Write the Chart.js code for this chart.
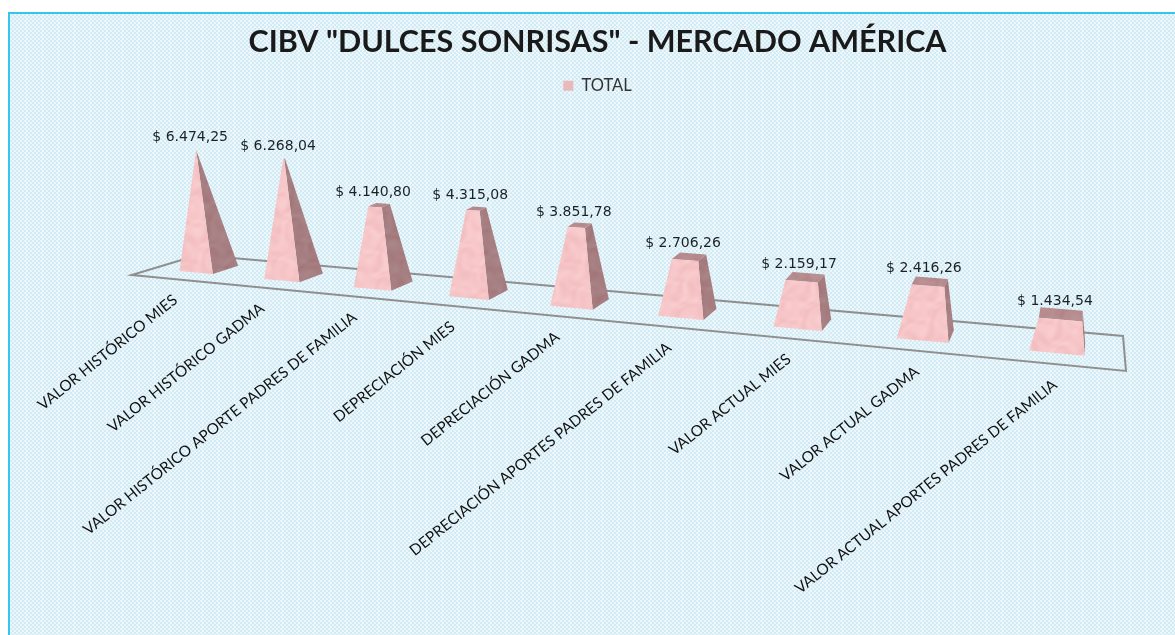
<!DOCTYPE html>
<html>
<head>
<meta charset="utf-8">
<style>
  html, body { margin: 0; height: 100%; background: #fff; overflow: hidden; }
  #fondo {
    position: absolute; left: 8px; top: 12px; width: 1180px; height: 640px;
    border: 2px solid #35c6f0; box-sizing: border-box;
    background:
      repeating-linear-gradient(90deg, rgba(255,255,255,.3) 0 1px, transparent 1px 16px),
      repeating-conic-gradient(#d2eaf3 0 25%, #ebf7fa 0 50%) 0 0 / 4px 4px;
  }
  #grafico { position: absolute; left: 0; top: 0; }
</style>
</head>
<body>
<div id="fondo"></div>
<canvas id="grafico" width="1175" height="635"></canvas>
<script src="https://cdn.jsdelivr.net/npm/chart.js@4"></script>
<script>
const categorias = [
  'VALOR HISTÓRICO MIES',
  'VALOR HISTÓRICO GADMA',
  'VALOR HISTÓRICO APORTE PADRES DE FAMILIA',
  'DEPRECIACIÓN MIES',
  'DEPRECIACIÓN GADMA',
  'DEPRECIACIÓN APORTES PADRES DE FAMILIA',
  'VALOR ACTUAL MIES',
  'VALOR ACTUAL GADMA',
  'VALOR ACTUAL APORTES PADRES DE FAMILIA'
];
const valores = [6474.25, 6268.04, 4140.80, 4315.08, 3851.78, 2706.26, 2159.17, 2416.26, 1434.54];

// esquinas del piso en pantalla: frente-izq, frente-der, fondo-der, fondo-izq
const piso = [[131.7, 275], [1126, 371], [1123, 336], [198, 255]];
const fondoV = [0.3, 0.7];   // profundidad de cada barra dentro del piso

// homografia del cuadrado unidad al piso
function crearProyeccion(q) {
  const [p0, p1, p2, p3] = q;
  const dx1 = p1[0] - p2[0], dx2 = p3[0] - p2[0], sx = p0[0] - p1[0] + p2[0] - p3[0];
  const dy1 = p1[1] - p2[1], dy2 = p3[1] - p2[1], sy = p0[1] - p1[1] + p2[1] - p3[1];
  const det = dx1 * dy2 - dx2 * dy1;
  const g = (sx * dy2 - dx2 * sy) / det, h = (dx1 * sy - sx * dy1) / det;
  const a = p1[0] - p0[0] + g * p1[0], b = p3[0] - p0[0] + h * p3[0];
  const d = p1[1] - p0[1] + g * p1[1], e = p3[1] - p0[1] + h * p3[1];
  return (u, v) => {
    const w = g * u + h * v + 1;
    return [(a * u + b * v + p0[0]) / w, (d * u + e * v + p0[1]) / w];
  };
}
const proyectar = crearProyeccion(piso);

// punto 3D: u,v sobre el piso y f = fraccion de la altura del eje
function punto3d(u, v, f) {
  const [x, y] = proyectar(u, v);
  return [x + 2.5 + (x - 587) * 0.0342 * f, y - (112 + 0.031 * x) * f];
}

// textura jaspeada de las caras
function textura(ctx, r, g, b) {
  const c = document.createElement('canvas');
  c.width = c.height = 128;
  const cx = c.getContext('2d');
  const img = cx.createImageData(128, 128);
  const k = 2 * Math.PI / 128;
  for (let j = 0; j < 128; j++) {
    for (let i = 0; i < 128; i++) {
      const w1 = 1.8 * Math.sin(k * (2 * i - 3 * j)) + 1.2 * Math.sin(k * (5 * i + j) + 0.7);
      const w2 = 1.5 * Math.cos(k * (3 * i + 4 * j) + 1.1) + Math.sin(k * (i - 6 * j) + 2.3);
      const n = Math.sin(k * (4 * i + 3 * j) + w1) + Math.sin(k * (7 * j - 5 * i) + w2) * 0.8 +
                Math.sin(k * (9 * i + 8 * j) + w1 + w2) * 0.5;
      const p = (j * 128 + i) * 4;
      img.data[p] = r + n * 1.5;
      img.data[p + 1] = g + n * 3.5;
      img.data[p + 2] = b + n * 3.5;
      img.data[p + 3] = 255;
    }
  }
  cx.putImageData(img, 0, 0);
  return ctx.createPattern(c, 'repeat');
}

function cara(ctx, puntos, relleno) {
  ctx.beginPath();
  puntos.forEach((p, i) => i ? ctx.lineTo(p[0], p[1]) : ctx.moveTo(p[0], p[1]));
  ctx.closePath();
  ctx.fillStyle = relleno;
  ctx.fill();
}

const piramides = {
  id: 'piramides',
  // las etiquetas del eje siguen el borde frontal del piso
  beforeDraw(chart) {
    const area = chart.chartArea;
    const eje = chart.scales.x;
    eje.getLabelItems().forEach((item, i) => {
      const [x, y] = proyectar((eje.getPixelForTick(i) - area.left) / area.width, 0);
      item.options.translation = [x + 2, y + 19];
      item.options.rotation = -38.8 * Math.PI / 180;
      item.options.textAlign = 'right';
      item.options.textBaseline = 'middle';
      item.textOffset = 0;
    });
  },
  beforeDatasetDraw(chart) {
    const ctx = chart.ctx;
    const area = chart.chartArea;
    const [v0, v1] = fondoV;

    ctx.save();
    ctx.beginPath();
    piso.forEach((p, i) => i ? ctx.lineTo(p[0], p[1]) : ctx.moveTo(p[0], p[1]));
    ctx.closePath();
    ctx.strokeStyle = '#8f8f8f';
    ctx.lineWidth = 2;
    ctx.stroke();

    const frente = textura(ctx, 246, 197, 199);
    const lado = textura(ctx, 166, 126, 129);
    const tapa = textura(ctx, 182, 139, 142);

    chart.getDatasetMeta(0).data.forEach((bar, i) => {
      const u = (bar.x - area.left) / area.width;
      const du = bar.width / 2 / area.width;
      const f = (bar.base - bar.y) / area.height;
      const vm = (v0 + v1) / 2, dv = (v1 - v0) / 2, r = 1 - f;
      const abajo = (a, b) => punto3d(u + a * du, vm + b * dv, 0);
      const arriba = (a, b) => punto3d(u + a * r * du, vm + b * r * dv, f);

      cara(ctx, [abajo(1, -1), abajo(1, 1), arriba(1, 1), arriba(1, -1)], lado);
      cara(ctx, [arriba(-1, -1), arriba(1, -1), arriba(1, 1), arriba(-1, 1)], tapa);
      cara(ctx, [abajo(-1, -1), abajo(1, -1), arriba(1, -1), arriba(-1, -1)], frente);

      const cima = arriba(0, 0);
      ctx.fillStyle = '#1a2226';
      ctx.font = '14px "DejaVu Sans"';
      ctx.textAlign = 'center';
      ctx.textBaseline = 'middle';
      const texto = '$ ' + valores[i].toLocaleString('de-DE', { minimumFractionDigits: 2, maximumFractionDigits: 2 });
      ctx.fillText(texto, cima[0] - 6, cima[1] - 13);
    });
    ctx.restore();
    return false;
  }
};

new Chart(document.getElementById('grafico'), {
  type: 'bar',
  data: {
    labels: categorias,
    datasets: [{
      label: 'TOTAL',
      data: valores,
      backgroundColor: '#e9b9bb',
      categoryPercentage: 0.8,
      barPercentage: 0.5
    }]
  },
  options: {
    responsive: false,
    animation: false,
    layout: { padding: { left: 20, top: 24 } },
    scales: {
      x: {
        grid: { display: false },
        border: { display: false },
        ticks: {
          autoSkip: false,
          maxRotation: 40,
          minRotation: 40,
          color: '#111',
          font: { family: 'Lato', size: 15.3 }
        },
        afterFit(scale) { scale.height = 360; }
      },
      y: {
        display: false,
        min: 0,
        max: Math.max(...valores)
      }
    },
    plugins: {
      tooltip: { enabled: false },
      title: {
        display: true,
        text: 'CIBV "DULCES SONRISAS" - MERCADO AMÉRICA',
        color: '#1a1a1a',
        font: { family: 'Lato', size: 30.5, weight: 'bold' },
        padding: { top: 0, bottom: 7 }
      },
      legend: {
        position: 'top',
        labels: {
          boxWidth: 10,
          boxHeight: 10,
          color: '#333',
          font: { family: 'Lato', size: 16.5 }
        }
      }
    }
  },
  plugins: [piramides]
});
</script>
</body>
</html>
